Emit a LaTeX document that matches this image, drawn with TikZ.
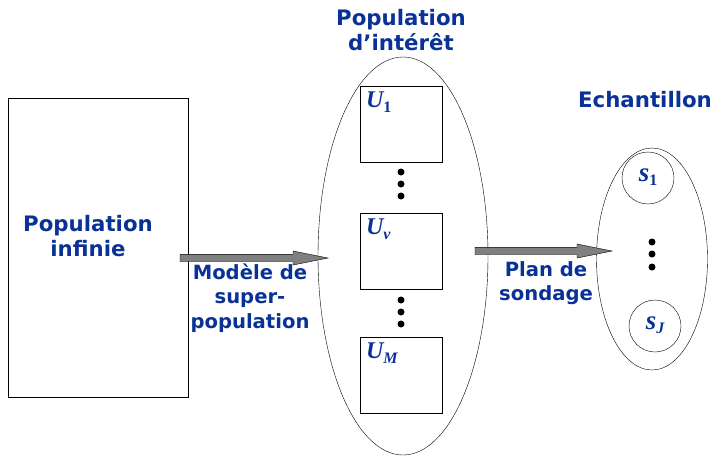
\documentclass[tikz,border=0pt]{standalone}
\usepackage{fontspec}
\setmainfont{DejaVu Sans}
\newfontfamily\mathserif{Liberation Serif}
\usetikzlibrary{calc,shapes.geometric}
\definecolor{labelblue}{RGB}{10,50,150}
\definecolor{shaftgray}{RGB}{128,128,128}
\tikzset{
  lbl/.style={text=labelblue, font=\bfseries\fontsize{21.3}{24.5}\selectfont, align=center, inner sep=0pt},
  arrowlbl/.style={text=labelblue, font=\bfseries\fontsize{19.6}{24.5}\selectfont, align=center, inner sep=0pt},
  sym/.style={text=labelblue, font=\mathserif\bfseries\itshape\fontsize{24}{24}\selectfont, inner sep=0pt},
  smallsym/.style={text=labelblue, font=\mathserif\bfseries\itshape\fontsize{27}{27}\selectfont, inner sep=0pt},
  subbox/.style={draw, thin, minimum width=82pt, minimum height=76pt, inner sep=0pt},
  dot/.style={circle, fill=black, minimum size=7pt, inner sep=0pt},
  blockarrow/.style={draw=black, thin, fill=shaftgray},
}
% lowered subscript for the symbol labels
\newcommand\lowsub[1]{\raisebox{-4.5pt}{\fontsize{16}{16}\selectfont#1}}
% gray block arrow between two named points
\newcommand\blockarr[2]{%
  \draw[blockarrow] let \p1=(#1), \p2=(#2) in
    (\x1,\y1-3.7pt) -- (\x2-35pt,\y1-3.7pt) -- (\x2-35pt,\y1-7pt) -- (\x2,\y1)
    -- (\x2-35pt,\y1+7pt) -- (\x2-35pt,\y1+3.7pt) -- (\x1,\y1+3.7pt) -- cycle;}
\begin{document}
\begin{tikzpicture}[x=1pt,y=-1pt]
\useasboundingbox (0,0) rectangle (714,456);
% infinite population
\node[draw, thin, minimum width=180pt, minimum height=299pt, inner sep=0pt] (inf) at (98,247.5) {};
\node[lbl] (inflbl) at (88,236) {Population\\infinie};
% population of interest
\node[draw, thin, ellipse, minimum width=170pt, minimum height=398pt, inner sep=0pt] (pop) at (403,256) {};
\node[lbl] (poplbl) at (401,30) {Population\\d’intérêt};
\node[subbox] (u1) at (401,124) {};
\node[subbox] (uv) at (401,251) {};
\node[subbox] (um) at (401,375) {};
\node[sym, anchor=base west] (u1l) at ([xshift=6pt,yshift=-22pt]u1.north west) {U\lowsub{\normalfont\mathserif\bfseries 1}};
\node[sym, anchor=base west] (uvl) at ([xshift=6pt,yshift=-22pt]uv.north west) {U\lowsub{v}};
\node[sym, anchor=base west] (uml) at ([xshift=6pt,yshift=-22pt]um.north west) {U\lowsub{M}};
\node[dot] (d1) at (401,172) {};
\node[dot] (d2) at (401,184) {};
\node[dot] (d3) at (401,196) {};
\node[dot] (d4) at (401,300) {};
\node[dot] (d5) at (401,312) {};
\node[dot] (d6) at (401,324) {};
% sample
\node[draw, thin, ellipse, minimum width=111pt, minimum height=222pt, inner sep=0pt] (ech) at (652,259) {};
\node[lbl] (echlbl) at (645,100) {Echantillon};
\node[draw, thin, circle, minimum size=52pt, inner sep=0pt] (s1) at (648,178) {};
\node[draw, thin, circle, minimum size=52pt, inner sep=0pt] (sj) at (655,326) {};
\node[smallsym] (s1l) at ([yshift=1pt]s1) {s\lowsub{\normalfont\mathserif\bfseries 1}};
\node[smallsym] (sjl) at ([yshift=1pt]sj) {s\lowsub{J}};
\node[dot] (e1) at (652,242) {};
\node[dot] (e2) at (652,254) {};
\node[dot] (e3) at (652,267) {};
% arrows
\coordinate (a1s) at (180,258);
\coordinate (a1e) at (328,258);
\coordinate (a2s) at (475,251);
\coordinate (a2e) at (612,251);
\blockarr{a1s}{a1e}
\blockarr{a2s}{a2e}
\node[arrowlbl] (mlbl) at (250,298) {Modèle de\\super-\\population};
\node[arrowlbl] (plbl) at (546,283) {Plan de\\sondage};
\end{tikzpicture}
\end{document}
